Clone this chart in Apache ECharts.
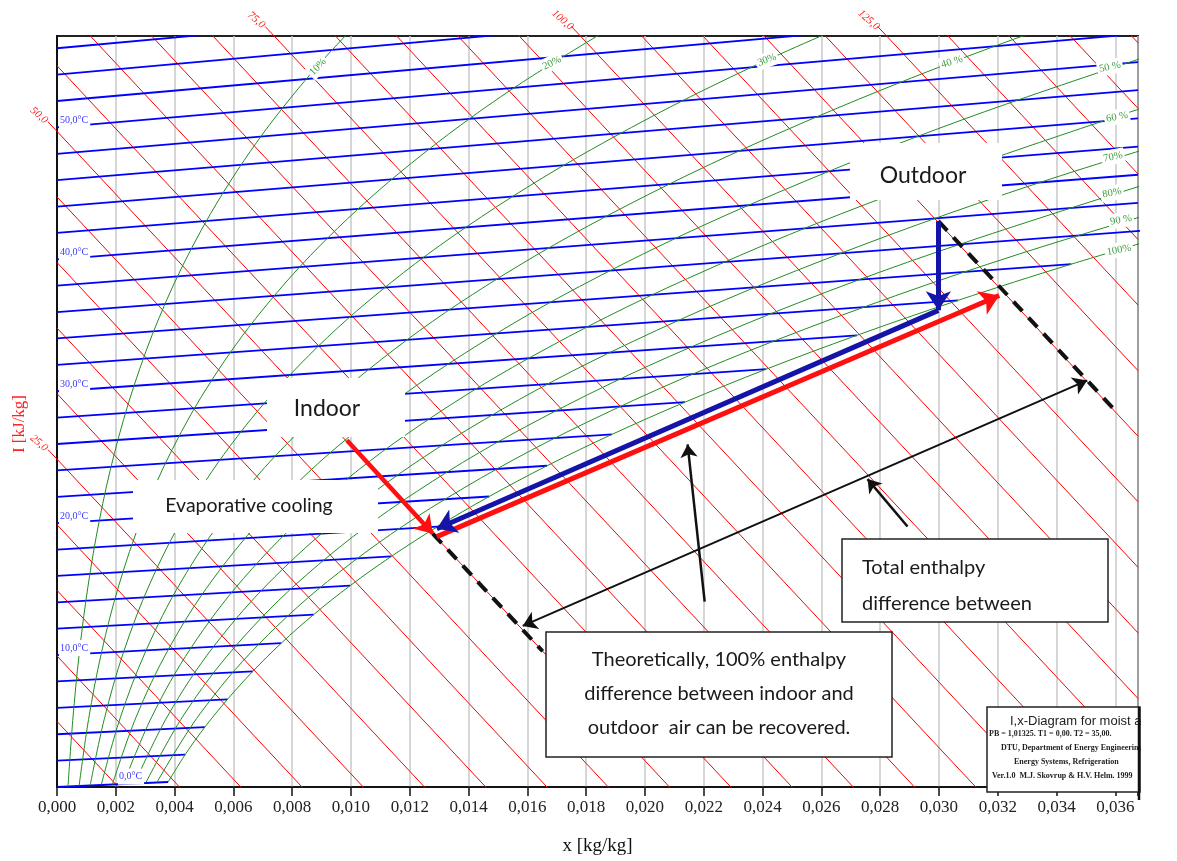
<!DOCTYPE html>
<html><head><meta charset="utf-8">
<script src="https://cdn.jsdelivr.net/npm/echarts@6/dist/echarts.min.js"></script>
<style>html,body{margin:0;padding:0;background:#fff}#c{width:1177px;height:861px}</style>
</head><body><div id="c"></div>
<script>
// ---------- chart data ----------
const X_MIN = 0, X_MAX = 0.03677;           // humidity ratio range of the plot
const Y_MAX = 57.27;                          // top of the oblique Mollier ordinate
const SKEW = 2400;                            // oblique axis slope of the diagram (kJ/kg)
const CPA = 1.006, CPV = 1.86, R0 = 2501;     // air / vapour constants of the diagram

const xTickLabels = ['0,000','0,002','0,004','0,006','0,008','0,010','0,012','0,014','0,016','0,018','0,020','0,022','0,024','0,026','0,028','0,030','0,032','0,034','0,036'];

const isotherms = [0,2,4,6,8,10,12,14,16,18,20,22,24,26,28,30,32,34,36,38,40,42,44,46,48,50,52,54,56];
const isothermLabels = [0,10,20,30,40,50];
const enthalpies = [5,10,15,20,25,30,35,40,45,50,55,60,65,70,75,80,85,90,95,100,105,110,115,120,125,130,135,140,145];
const enthalpyLabels = [25,50,75,100,125];

// saturation curve (100 %) : temperature [°C] and humidity ratio [kg/kg]
const satTemps = [0,2,4,6,8,10,12,14,16,18,20,22,24,26,28,30,32,34,36];
const satX = [0.00378,0.00436,0.00503,0.00580,0.00666,0.00763,0.00873,0.00997,0.01137,0.01294,0.01470,0.01667,0.01888,0.02136,0.02412,0.02721,0.03065,0.03450,0.03879];

// relative humidity curves: temperatures and humidity ratios
const rhTemps = [0,5,10,15,20,25,30,35,40,45,50,55,60];
const rh10 = [0.000375,0.000536,0.000755,0.001049,0.001439,0.001952,0.002618,0.003474,0.004567,0.005947,0.007676,0.009829,0.012490];
const rh20 = [0.000751,0.001073,0.001512,0.002101,0.002885,0.003916,0.005258,0.006988,0.009201,0.012008,0.015544,0.019973];
const rh30 = [0.001128,0.001611,0.002270,0.003157,0.004338,0.005893,0.007920,0.010541,0.013905,0.018187,0.023611,0.030448];
const rh40 = [0.001504,0.002150,0.003031,0.004217,0.005797,0.007882,0.010605,0.014135,0.018679,0.024488,0.031885,0.041271];
const rh50 = [0.001882,0.002690,0.003793,0.005280,0.007264,0.009884,0.013314,0.017770,0.023525,0.030915,0.040373];
const rh60 = [0.002259,0.003231,0.004557,0.006347,0.008737,0.011898,0.016045,0.021446,0.028446,0.037470];
const rh70 = [0.002638,0.003772,0.005323,0.007417,0.010217,0.013926,0.018800,0.025165,0.033441,0.044159];
const rh80 = [0.003016,0.004315,0.006091,0.008491,0.011704,0.015966,0.021579,0.028927,0.038514];
const rh90 = [0.003395,0.004859,0.006860,0.009569,0.013198,0.018019,0.024382,0.032733,0.043667];
const rhCurves = [rh10,rh20,rh30,rh40,rh50,rh60,rh70,rh80,rh90];
const rhNames = ['10%','20%','30%','40 %','50 %','60 %','70%','80%','90 %','100%'];

// process states [x kg/kg, h kJ/kg]
const indoor = [0.00986, 50.1];
const evapEnd = [0.01278, 50.0];
const dashLowEnd = [0.01652, 50.0];
const outdoor = [0.02998, 115.1];
const dashHighEnd = [0.03596, 115.1];
const outdoorCooled = [0.02998, 108.3];
const blueEnd = [0.01292, 50.7];
const redStart = [0.01292, 50.1];
const redEnd = [0.03205, 114.4];
const spanLow = [0.01584, 50.3];
const spanHigh = [0.03504, 115.1];
const ptr1From = [0.02203, 67.0], ptr1To = [0.02145, 77.6];
const ptr2From = [0.02893, 89.3], ptr2To = [0.02757, 89.65];

// ---------- projection of the i,x diagram ----------
const mY = (x, t) => CPA * t + x * (R0 - SKEW + CPV * t);
const hY = (x, h) => h - SKEW * x;
const P = (s) => [s[0], hY(s[0], s[1])];

const chart = echarts.init(document.getElementById('c'));
const series = [];
enthalpies.forEach(h => series.push({
  type: 'line', data: [[X_MIN, hY(X_MIN, h)], [X_MAX, hY(X_MAX, h)]],
  symbol: 'none', silent: true, z: 2, lineStyle: { color: '#ff0000', width: 1 }
}));
isotherms.forEach(t => {
  const i = satTemps.indexOf(t);
  const xe = i >= 0 ? satX[i] : X_MAX;
  series.push({
    type: 'line', data: [[X_MIN, mY(X_MIN, t)], [xe, mY(xe, t)]],
    symbol: 'none', silent: true, z: 3, lineStyle: { color: '#0000ff', width: 1.8 }
  });
});
rhCurves.forEach(arr => series.push({
  type: 'line', data: arr.map((x, i) => [x, mY(x, rhTemps[i])]), smooth: 0.35,
  symbol: 'none', silent: true, z: 4, lineStyle: { color: '#228b22', width: 1 }
}));
series.push({
  type: 'line', data: satX.map((x, i) => [x, mY(x, satTemps[i])]), smooth: 0.35,
  symbol: 'none', silent: true, z: 4, lineStyle: { color: '#228b22', width: 1 }
});

function arrow(from, to, color, width, sym, size, type, z) {
  series.push({
    type: 'lines', coordinateSystem: 'cartesian2d', z: z || 10, silent: true,
    symbol: sym, symbolSize: size,
    lineStyle: { color: color, width: width, opacity: 1, type: type || 'solid' },
    data: [{ coords: [P(from), P(to)] }]
  });
}
arrow(evapEnd, dashLowEnd, '#111', 4, ['none','none'], 1, [13, 9]);
arrow(outdoor, dashHighEnd, '#111', 4, ['none','none'], 1, [13, 9]);
arrow(spanLow, spanHigh, '#111', 2, ['arrow','arrow'], 14);
arrow(ptr1From, ptr1To, '#111', 2.5, ['none','arrow'], 13);
arrow(ptr2From, ptr2To, '#111', 2.5, ['none','arrow'], 13);
arrow(redStart, redEnd, '#ff1010', 5, ['none','arrow'], 19, 'solid', 11);
arrow(outdoorCooled, blueEnd, '#1414a8', 5, ['none','arrow'], 19, 'solid', 12);
arrow(outdoor, outdoorCooled, '#1414a8', 5, ['none','arrow'], 19, 'solid', 12);
arrow(indoor, evapEnd, '#ff1010', 4.5, ['none','arrow'], 17, 'solid', 12);

const option = {
  animation: false,
  grid: { left: 57, top: 36, right: 39, bottom: 69, show: true, borderColor: '#222', borderWidth: 2 },
  xAxis: {
    type: 'value', min: X_MIN, max: X_MAX, interval: 0.002,
    axisLine: { show: true, onZero: false, lineStyle: { color: '#111', width: 1.5 } },
    axisTick: { show: true, length: 9, lineStyle: { color: '#111', width: 1.5 } },
    axisLabel: {
      margin: 12, fontFamily: 'Liberation Serif', fontSize: 17, color: '#222',
      formatter: v => { const k = Math.round(v / 0.002); return Math.abs(v / 0.002 - k) < 1e-6 ? (xTickLabels[k] || '') : ''; }
    },
    splitLine: { show: true, lineStyle: { color: '#c8c8c8', width: 1.5 } },
    name: 'x [kg/kg]', nameLocation: 'middle', nameGap: 50,
    nameTextStyle: { fontFamily: 'Liberation Serif', fontSize: 19, color: '#111' }
  },
  yAxis: {
    type: 'value', min: 0, max: Y_MAX,
    axisLine: { show: true, lineStyle: { color: '#111', width: 2 } },
    axisTick: { show: false }, axisLabel: { show: false }, splitLine: { show: false }
  },
  series: series
};
chart.setOption(option);

// ---------- labels & annotation boxes ----------
const px = (p) => chart.convertToPixel({ gridIndex: 0 }, p);
const g = [];
const fmt1 = v => v.toFixed(1).replace('.', ',');

enthalpyLabels.forEach(h => {
  const p = h <= Y_MAX ? px([0, h]) : px([(h - Y_MAX) / SKEW, Y_MAX]);
  g.push({ type: 'line', shape: { x1: p[0] - 9, y1: p[1] - 9.5, x2: p[0], y2: p[1] }, style: { stroke: '#ff0000', lineWidth: 1 }, z: 30 });
  g.push({ type: 'text', x: p[0] - 18, y: p[1] - 16, rotation: -0.72, z: 30,
    style: { text: fmt1(h), fill: '#ff2020', font: 'italic 11px "Liberation Serif"', textAlign: 'center', textVerticalAlign: 'middle' } });
});
isothermLabels.forEach(t => {
  const xl = t === 0 ? 0.00255 : 0;
  const p = px([xl, mY(xl, t)]);
  g.push({ type: 'text', x: t === 0 ? p[0] - 14 : p[0] + 2, y: p[1] - 7, z: 30,
    style: { text: fmt1(t) + '°C', fill: '#3a3aff', font: '10px "Liberation Serif"', textVerticalAlign: 'middle',
      backgroundColor: '#fff', padding: [2, 2, 4, 1] } });
});
const rhLab = [[318,67,0.8],[552,63,0.45],[767,60,0.35],[952,62,0.3],[1110,67,0.22],[1117,117,0.18],[1113,157,0.2],[1112,193,0.2],[1121,220,0.18],[1119,250,0.18]];
rhLab.forEach((r, i) => g.push({ type: 'text', x: r[0], y: r[1], rotation: r[2], z: 30,
  style: { text: rhNames[i], fill: '#3c9a3c', font: '10.5px "Liberation Serif"', textAlign: 'center', textVerticalAlign: 'middle',
    backgroundColor: '#fff', padding: [2, 2, 2, 2] } }));

g.push({ type: 'text', x: 20, y: 424, rotation: Math.PI / 2, z: 30,
  style: { text: 'I [kJ/kg]', fill: '#ff2020', font: '17px "Liberation Serif"', textAlign: 'center', textVerticalAlign: 'middle' } });

// white label masks with plain text
function mask(x, y, w, hgt) { g.push({ type: 'rect', shape: { x: x, y: y, width: w, height: hgt }, style: { fill: '#fff' }, z: 20 }); }
mask(850, 143, 152, 57);
mask(267, 378, 138, 59);
mask(133, 480, 245, 53);
function txt(s, x, y, size, align) {
  g.push({ type: 'text', x: x, y: y, z: 40,
    style: { text: s, fill: '#1a1a1a', font: size + 'px Lato', textAlign: align || 'center', textVerticalAlign: 'middle' } });
}
txt('Outdoor', 923, 176, 23);
txt('Indoor', 327, 409, 23);
txt('Evaporative cooling', 249, 506, 19.5);

// bordered boxes
function box(x, y, w, hgt) { g.push({ type: 'rect', shape: { x: x, y: y, width: w, height: hgt }, style: { fill: '#fff', stroke: '#222', lineWidth: 1.5 }, z: 35 }); }
box(842, 539, 266, 83);
txt('Total enthalpy', 862, 568, 20, 'left');
txt('difference between', 862, 604, 20, 'left');
box(546, 632, 346, 125);
txt('Theoretically, 100% enthalpy', 719, 660, 20);
txt('difference between indoor and', 719, 694, 20);
txt('outdoor  air can be recovered.', 719, 728, 20);

// diagram info box (cropped at the right)
box(987, 707, 153, 85);
g.push({ type: 'text', x: 1010, y: 721, z: 40, style: { text: 'I,x-Diagram for moist air', fill: '#222', font: '13px "Liberation Sans"', textVerticalAlign: 'middle' } });
const small = [['PB = 1,01325. T1 = 0,00. T2 = 35,00.', 989, 734], ['DTU, Department of Energy Engineering', 1001, 748], ['Energy Systems, Refrigeration', 1014, 762], ['Ver.1.0  M.J. Skovrup & H.V. Helm. 1999', 992, 776]];
small.forEach(s => g.push({ type: 'text', x: s[1], y: s[2], z: 40, style: { text: s[0], fill: '#222', font: 'bold 8px "Liberation Serif"', textVerticalAlign: 'middle' } }));
g.push({ type: 'rect', shape: { x: 1141, y: 700, width: 36, height: 92 }, style: { fill: '#fff' }, z: 45 });
g.push({ type: 'line', shape: { x1: 1139, y1: 707, x2: 1139, y2: 800 }, style: { stroke: '#111', lineWidth: 2.5 }, z: 46 });

chart.setOption({ graphic: { elements: g } });
</script></body></html>
